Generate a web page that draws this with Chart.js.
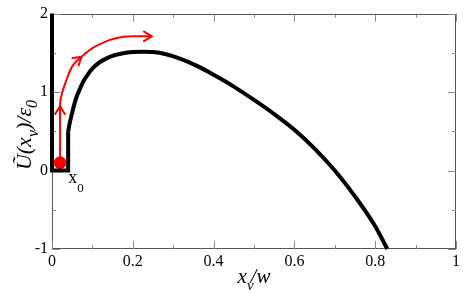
<!DOCTYPE html>
<html>
<head>
<meta charset="utf-8">
<script src="https://cdn.jsdelivr.net/npm/chart.js@4"></script>
<style>
  html, body { margin: 0; padding: 0; background: #fff; }
  canvas { display: block; }
</style>
</head>
<body>
<canvas id="potentialChart" width="463" height="297"></canvas>
<script>
// well: left wall, floor and inner wall up to the barrier start
const wallX = [0, 0, 0.04, 0.04];
const wallY = [2, 0, 0, 0.5];

// barrier curve U(x_v)/eps_0
const barrierX = [0.04, 0.0445, 0.0486, 0.055, 0.061, 0.069, 0.077, 0.088, 0.102, 0.118, 0.135, 0.155, 0.176, 0.2, 0.225, 0.25, 0.28, 0.32, 0.36, 0.4, 0.45, 0.5, 0.55, 0.6, 0.65, 0.7, 0.75, 0.8, 0.83];
const barrierY = [0.5, 0.62, 0.71, 0.84, 0.94, 1.04, 1.13, 1.22, 1.31, 1.38, 1.43, 1.47, 1.495, 1.51, 1.515, 1.51, 1.485, 1.42, 1.33, 1.22, 1.07, 0.90, 0.72, 0.52, 0.28, 0.0, -0.33, -0.71, -1.0];

// red escape path and the arrowheads on it (indices into the path)
const pathX = [0.02, 0.02, 0.02, 0.021, 0.024, 0.028, 0.034, 0.042, 0.053, 0.073, 0.102, 0.143, 0.17, 0.2, 0.247];
const pathY = [0.1, 0.5, 0.82, 0.9, 0.97, 1.04, 1.13, 1.24, 1.35, 1.45, 1.565, 1.665, 1.70, 1.71, 1.71];
const arrowIdx = [2, 9, 14];

// particle
const dotX = [0.02];
const dotY = [0.1];

// ticks
const xMinor = [0.1, 0.3, 0.5, 0.7, 0.9];
const yMinor = [-0.5, 0.5, 1.5];

const pts = (xs, ys) => xs.map((x, i) => ({ x, y: ys[i] }));

const SERIF = '"Liberation Serif", "Times New Roman", serif';

function drawRich(ctx, parts, cx, cy) {
  let total = 0;
  parts.forEach(p => {
    ctx.font = p.font;
    p.w = ctx.measureText(p.t).width + (p.kern || 0);
    total += p.w;
  });
  let x = cx - total / 2;
  parts.forEach(p => {
    ctx.font = p.font;
    ctx.fillText(p.t, x, cy + (p.dy || 0));
    x += p.w;
  });
}

const framePlugin = {
  id: "frame",
  beforeDatasetsDraw(chart) {
    const { ctx, chartArea: a, scales: { x, y } } = chart;
    ctx.save();
    ctx.strokeStyle = "#555";
    ctx.lineWidth = 1;
    ctx.strokeRect(Math.round(a.left) + 0.5, Math.round(a.top) + 0.5,
      Math.round(a.right - a.left) - 1, Math.round(a.bottom - a.top) - 1);

    ctx.strokeStyle = "#888";
    ctx.beginPath();
    const xt = (v, len) => {
      const px = Math.round(x.getPixelForValue(v)) + 0.5;
      ctx.moveTo(px, a.bottom); ctx.lineTo(px, a.bottom - len);
      ctx.moveTo(px, a.top); ctx.lineTo(px, a.top + len);
    };
    const yt = (v, len) => {
      const py = Math.round(y.getPixelForValue(v)) + 0.5;
      ctx.moveTo(a.left, py); ctx.lineTo(a.left + len, py);
      ctx.moveTo(a.right, py); ctx.lineTo(a.right - len, py);
    };
    x.ticks.forEach(t => xt(t.value, 8));
    xMinor.forEach(v => xt(v, 4));
    y.ticks.forEach(t => yt(t.value, 8));
    yMinor.forEach(v => yt(v, 4));
    ctx.stroke();
    ctx.restore();
  },
  afterDatasetsDraw(chart) {
    const { ctx, scales: { x, y } } = chart;
    const ds = chart.data.datasets[2].data;
    ctx.save();
    ctx.strokeStyle = "#ff0000";
    ctx.lineWidth = 2;
    arrowIdx.forEach(i => {
      const p = ds[i];
      const q = ds[i - 1];
      const n = ds[i + 1] || p;
      const tx = x.getPixelForValue(p.x), ty = y.getPixelForValue(p.y);
      const dx = x.getPixelForValue(n.x) - x.getPixelForValue(q.x);
      const dy = y.getPixelForValue(n.y) - y.getPixelForValue(q.y);
      const ang = Math.atan2(dy, dx);
      const len = 10, spread = 0.55;
      ctx.beginPath();
      ctx.moveTo(tx - len * Math.cos(ang - spread), ty - len * Math.sin(ang - spread));
      ctx.lineTo(tx, ty);
      ctx.lineTo(tx - len * Math.cos(ang + spread), ty - len * Math.sin(ang + spread));
      ctx.stroke();
    });
    ctx.restore();
  },
  afterDraw(chart) {
    const { ctx, chartArea: a, scales: { x, y } } = chart;
    ctx.save();
    ctx.fillStyle = "#000";
    ctx.textBaseline = "alphabetic";
    ctx.textAlign = "left";

    // x_0 marker label
    const lx = x.getPixelForValue(0.04);
    const ly = y.getPixelForValue(0);
    ctx.font = "18px " + SERIF;
    ctx.fillText("x", lx, ly + 12);
    const xw = ctx.measureText("x").width;
    ctx.font = "13px " + SERIF;
    ctx.fillText("0", lx + xw, ly + 21);

    // x axis title
    const big = "italic 21px " + SERIF;
    const sub = "italic 15px " + SERIF;
    drawRich(ctx, [
      { t: "x", font: big },
      { t: "v", font: sub, dy: 7, kern: -3 },
      { t: "/w", font: big }
    ], (a.left + a.right) / 2, 283);

    // y axis title, rotated
    const bigY = "italic 22px " + SERIF;
    const subY = "italic 16px " + SERIF;
    ctx.translate(31, 135);
    ctx.rotate(-Math.PI / 2);
    drawRich(ctx, [
      { t: "Ũ(x", font: bigY },
      { t: "v", font: subY, dy: 7 },
      { t: ")/ε", font: bigY },
      { t: "0", font: subY, dy: 6 }
    ], 0, 0);
    ctx.restore();
  }
};

const fmt = v => {
  const r = Math.round(v * 10) / 10;
  return String(r);
};

new Chart(document.getElementById("potentialChart"), {
  type: "scatter",
  data: {
    datasets: [
      {
        data: pts(wallX, wallY),
        showLine: true,
        borderColor: "#000",
        borderWidth: 4,
        borderJoinStyle: "miter",
        pointRadius: 0,
        tension: 0,
        clip: false
      },
      {
        data: pts(barrierX, barrierY),
        showLine: true,
        borderColor: "#000",
        borderWidth: 4,
        pointRadius: 0,
        cubicInterpolationMode: "monotone",
        clip: false
      },
      {
        data: pts(pathX, pathY),
        showLine: true,
        borderColor: "#ff0000",
        borderWidth: 2,
        pointRadius: 0,
        tension: 0.3,
        clip: false
      },
      {
        data: pts(dotX, dotY),
        showLine: false,
        backgroundColor: "#ff0000",
        borderColor: "#ff0000",
        pointRadius: 6,
        clip: false
      }
    ]
  },
  options: {
    responsive: false,
    animation: false,
    devicePixelRatio: 1,
    layout: { padding: { top: 8, right: 6, left: 0, bottom: 0 } },
    plugins: {
      legend: { display: false },
      tooltip: { enabled: false }
    },
    scales: {
      x: {
        type: "linear",
        min: 0,
        max: 1,
        grid: { display: false, drawTicks: false },
        border: { display: false },
        ticks: {
          stepSize: 0.2,
          autoSkip: false,
          maxRotation: 0,
          padding: 3,
          color: "#000",
          font: { family: SERIF, size: 16 },
          callback: fmt
        },
        afterFit: s => { s.height = 48; }
      },
      y: {
        type: "linear",
        min: -1,
        max: 2,
        grid: { display: false, drawTicks: false },
        border: { display: false },
        ticks: {
          stepSize: 1,
          autoSkip: false,
          padding: 4,
          color: "#000",
          font: { family: SERIF, size: 16 },
          callback: fmt
        },
        afterFit: s => { s.width = 52; }
      }
    }
  },
  plugins: [framePlugin]
});
</script>
</body>
</html>
